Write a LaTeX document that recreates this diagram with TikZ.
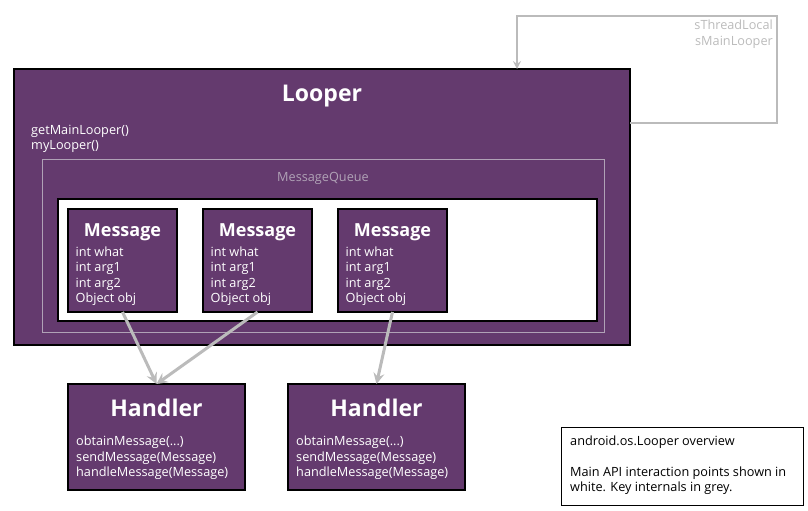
\documentclass[tikz,border=0pt]{standalone}
\usepackage{fontspec}
\setmainfont{Open Sans}
\usetikzlibrary{arrows.meta}
\definecolor{lpurple}{HTML}{643A6E}
\definecolor{lgrey}{HTML}{BBBBBB}
\definecolor{mqgrey}{HTML}{B0A2B6}
\begin{document}
\begin{tikzpicture}[x=1pt,y=-1pt,
  pbox/.style={draw=black, line width=2pt, fill=lpurple, inner sep=0pt, outer sep=0pt},
  ttl/.style={font=\bfseries\fontsize{18}{20}\selectfont, text=white, anchor=base, inner sep=0pt},
  bigttl/.style={font=\bfseries\fontsize{23}{26}\selectfont, text=white, anchor=base, inner sep=0pt},
  wtxt/.style={font=\fontsize{12.7}{14}\selectfont, text=white, anchor=base west, inner sep=0pt},
  gtxt/.style={font=\fontsize{12.7}{14}\selectfont, text=lgrey, anchor=base east, inner sep=0pt},
  btxt/.style={font=\fontsize{12.7}{14}\selectfont, text=black, anchor=base west, inner sep=0pt},
  flow/.style={draw=lgrey, line width=3pt, -{Stealth[length=11pt,width=11pt,inset=4pt]}},
  loopline/.style={draw=lgrey, line width=2pt, -{Stealth[length=8pt,width=8pt,inset=3pt]}}
]
\useasboundingbox (0,0) rectangle (808,511);

% Looper
\node[pbox, minimum width=616pt, minimum height=276pt] (looper) at (322,207) {};
\node[bigttl] (looperT) at (322,101) {Looper};
\node[wtxt] (api1) at (31,134) {getMainLooper()};
\node[wtxt] (api2) at (31,149) {myLooper()};

% MessageQueue
\node[draw=mqgrey, line width=1pt, minimum width=562pt, minimum height=173pt, inner sep=0pt] (mq) at (323.5,246) {};
\node[font=\fontsize{12.7}{14}\selectfont, text=mqgrey, anchor=base, inner sep=0pt] (mqT) at (323,181) {MessageQueue};
\node[draw=black, line width=2pt, fill=white, minimum width=539pt, minimum height=122pt, inner sep=0pt] (queue) at (327,260) {};

% Messages
\foreach \i/\x in {1/68,2/203,3/338}{
  \node[pbox, minimum width=109pt, minimum height=103pt] (msg\i) at (\x+54.5,260.5) {};
  \node[ttl] (msg\i t) at (\x+54.5,236) {Message};
  \node[wtxt] (msg\i a) at (\x+7.5,256) {int what};
  \node[wtxt] (msg\i b) at (\x+7.5,271.5) {int arg1};
  \node[wtxt] (msg\i c) at (\x+7.5,287) {int arg2};
  \node[wtxt] (msg\i d) at (\x+7.5,302.5) {Object obj};
}

% Handlers
\foreach \i/\x in {1/68,2/288}{
  \node[pbox, minimum width=177pt, minimum height=106pt] (h\i) at (\x+88.5,437) {};
  \node[bigttl] (h\i t) at (\x+88.5,416) {Handler};
  \node[wtxt] (h\i a) at (\x+8,445) {obtainMessage(...)};
  \node[wtxt] (h\i b) at (\x+8,461) {sendMessage(Message)};
  \node[wtxt] (h\i c) at (\x+8,476.5) {handleMessage(Message)};
}

% Arrows
\draw[flow] (msg1.south) -- (h1.north);
\draw[flow] (msg2.south) -- (h1.north);
\draw[flow] (msg3.south) -- (h2.north);

% Loop back to Looper
\coordinate (lr) at (777,123);
\coordinate (lt) at (517,16);
\draw[loopline] (looper.east |- lr) -- (lr) |- (lt) -- (lt |- looper.north);
\node[gtxt] (tl1) at (773,30) {sThreadLocal};
\node[gtxt] (tl2) at (773,46) {sMainLooper};

% Legend
\node[draw=black, line width=1pt, minimum width=242pt, minimum height=78pt, inner sep=0pt] (legend) at (682,466) {};
\node[btxt] (lg1) at (570,445) {android.os.Looper overview};
\node[btxt] (lg2) at (570,476) {Main API interaction points shown in};
\node[btxt] (lg3) at (570,491.5) {white. Key internals in grey.};
\end{tikzpicture}
\end{document}
